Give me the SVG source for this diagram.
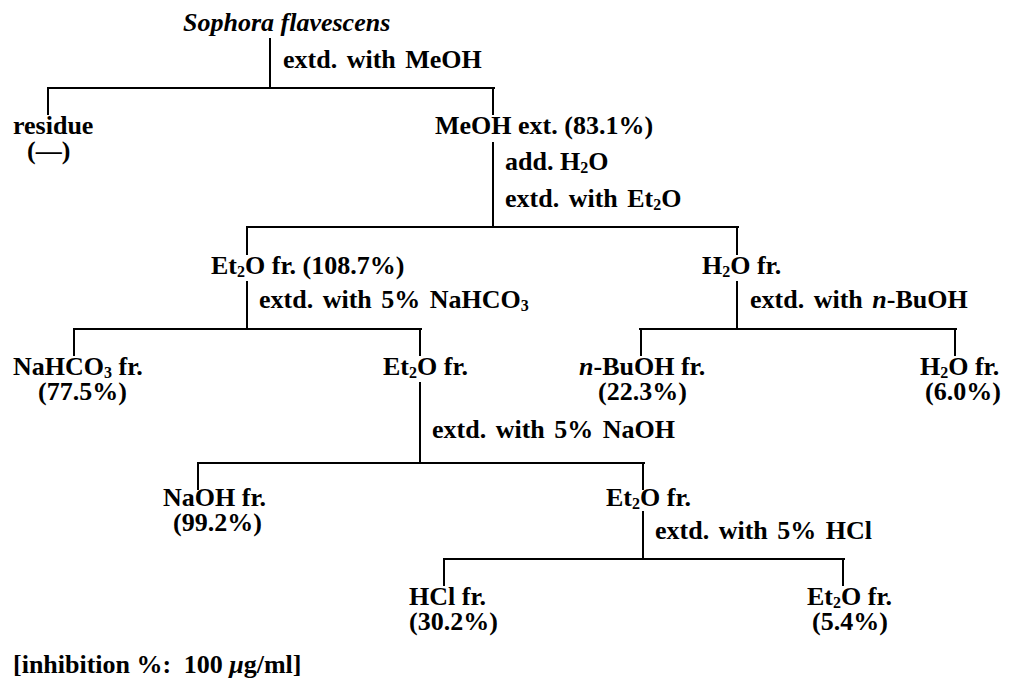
<svg xmlns="http://www.w3.org/2000/svg" width="1012" height="682" viewBox="0 0 1012 682">
<style>
text{font-family:"Liberation Serif","Times New Roman",serif;font-size:26px;font-weight:bold;fill:#000}
.it{font-style:italic}
.sub{font-size:16px}
.op{word-spacing:3px}
#connectors line{stroke:#000;stroke-width:2;stroke-linecap:square}
</style>
<rect width="1012" height="682" fill="#fff"/>
<g id="connectors">
<line x1="270" y1="39" x2="270" y2="88"/>
<line x1="48" y1="88" x2="494" y2="88"/>
<line x1="48" y1="88" x2="48" y2="114"/>
<line x1="493" y1="88" x2="493" y2="114"/>
<line x1="493" y1="143" x2="493" y2="227"/>
<line x1="247" y1="227" x2="738" y2="227"/>
<line x1="247" y1="227" x2="247" y2="254"/>
<line x1="737" y1="227" x2="737" y2="254"/>
<line x1="247" y1="282" x2="247" y2="329"/>
<line x1="74" y1="329" x2="421" y2="329"/>
<line x1="74" y1="329" x2="74" y2="355"/>
<line x1="420" y1="329" x2="420" y2="355"/>
<line x1="737" y1="282" x2="737" y2="329"/>
<line x1="640" y1="329" x2="956" y2="329"/>
<line x1="641" y1="329" x2="641" y2="355"/>
<line x1="955" y1="329" x2="955" y2="355"/>
<line x1="420" y1="383" x2="420" y2="463"/>
<line x1="198" y1="463" x2="644" y2="463"/>
<line x1="198" y1="463" x2="198" y2="489"/>
<line x1="643" y1="463" x2="643" y2="489"/>
<line x1="643" y1="512" x2="643" y2="559"/>
<line x1="444" y1="559" x2="844" y2="559"/>
<line x1="444" y1="559" x2="444" y2="585"/>
<line x1="843" y1="559" x2="843" y2="585"/>
</g>
<g id="edge-labels">
<text class="op" x="283" y="68">extd. with MeOH</text>
<text x="505" y="170">add. H<tspan class="sub" dy="3">2</tspan><tspan dy="-3">O</tspan></text>
<text class="op" x="505" y="207">extd. with Et<tspan class="sub" dy="3">2</tspan><tspan dy="-3">O</tspan></text>
<text class="op" x="259" y="308">extd. with 5% NaHCO<tspan class="sub" dy="3">3</tspan></text>
<text class="op" x="750" y="308">extd. with <tspan class="it">n</tspan>-BuOH</text>
<text class="op" x="432" y="438">extd. with 5% NaOH</text>
<text class="op" x="655" y="539">extd. with 5% HCl</text>
</g>
<g id="node-sophora"><text class="it" x="183" y="31">Sophora flavescens</text></g>
<g id="node-residue"><text x="13" y="134">residue<tspan x="27" y="159">(—)</tspan></text></g>
<g id="node-meoh-ext"><text x="435" y="134">MeOH ext. (83.1%)</text></g>
<g id="node-et2o-1"><text x="211" y="274">Et<tspan class="sub" dy="3">2</tspan><tspan dy="-3">O fr. (108.7%)</tspan></text></g>
<g id="node-h2o-1"><text x="702" y="274">H<tspan class="sub" dy="3">2</tspan><tspan dy="-3">O fr.</tspan></text></g>
<g id="node-nahco3"><text x="13" y="375">NaHCO<tspan class="sub" dy="3">3</tspan><tspan dy="-3"> fr.</tspan><tspan x="38" y="400">(77.5%)</tspan></text></g>
<g id="node-et2o-2"><text x="383" y="375">Et<tspan class="sub" dy="3">2</tspan><tspan dy="-3">O fr.</tspan></text></g>
<g id="node-buoh"><text x="579" y="375"><tspan class="it">n</tspan>-BuOH fr.<tspan x="598" y="400">(22.3%)</tspan></text></g>
<g id="node-h2o-2"><text x="920" y="375">H<tspan class="sub" dy="3">2</tspan><tspan dy="-3">O fr.</tspan><tspan x="925" y="400">(6.0%)</tspan></text></g>
<g id="node-naoh"><text x="163" y="506">NaOH fr.<tspan x="173" y="531">(99.2%)</tspan></text></g>
<g id="node-et2o-3"><text x="606" y="506">Et<tspan class="sub" dy="3">2</tspan><tspan dy="-3">O fr.</tspan></text></g>
<g id="node-hcl"><text x="409" y="605">HCl fr.<tspan x="409" y="630">(30.2%)</tspan></text></g>
<g id="node-et2o-4"><text x="807" y="605">Et<tspan class="sub" dy="3">2</tspan><tspan dy="-3">O fr.</tspan><tspan x="812" y="630">(5.4%)</tspan></text></g>
<g id="note"><text x="13" y="673">[inhibition %: <tspan dx="6">100</tspan> <tspan class="it">μ</tspan>g/ml]</text></g>
</svg>
